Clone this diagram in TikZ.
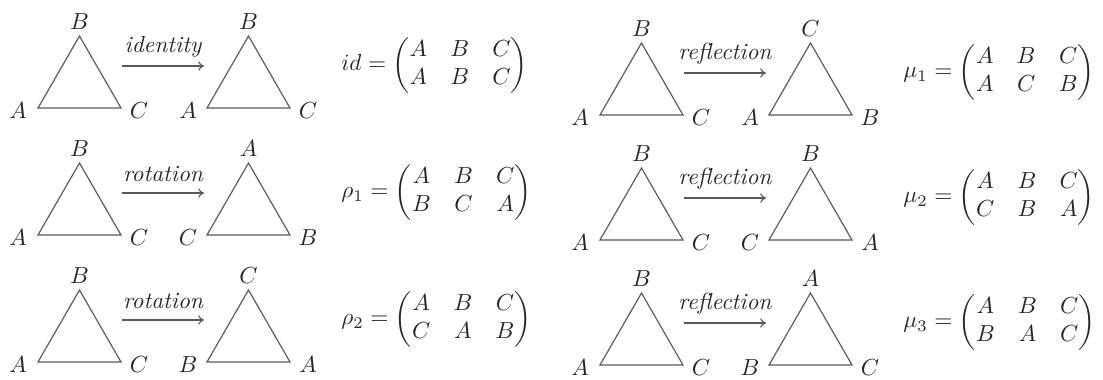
\documentclass[tikz,border=0pt]{standalone}
\usepackage{amsmath}
\usetikzlibrary{arrows.meta}
\tikzset{
  tri/.style={draw=black!65, line width=0.5pt, line join=miter},
  vlab/.style={inner sep=0pt, text=black!85},
  maparrow/.style={draw=black!65, line width=0.5pt, -{To[length=2.5pt,width=4pt]}},
  maplab/.style={inner sep=0pt, text=black!85, font=\itshape},
  perm/.style={inner sep=0pt, anchor=west, text=black!85},
}
\newcommand\sympanel[9]{%
  \coordinate (#1p) at (#2,#3);
  \coordinate (#1q) at (#2+83,#3);
  \coordinate (#1t) at (#2+41.5,#3-72);
  \draw[tri] (#1p) -- (#1q) -- (#1t) -- cycle;
  \node[vlab] (#1la) at (#2-20,#3+3) {$A$};
  \node[vlab] (#1lc) at (#2+101,#3+3) {$C$};
  \node[vlab] (#1lb) at (#2+41.5,#3-86) {$B$};
  \coordinate (#1r) at (#2+169,#3);
  \coordinate (#1s) at (#2+252,#3);
  \coordinate (#1u) at (#2+210.5,#3-72);
  \draw[tri] (#1r) -- (#1s) -- (#1u) -- cycle;
  \node[vlab] (#1ra) at (#2+150,#3+3) {$#6$};
  \node[vlab] (#1rc) at (#2+270,#3+3) {$#7$};
  \node[vlab] (#1rb) at (#2+210.5,#3-86) {$#5$};
  \coordinate (#1m) at (#2+84,#3-42);
  \coordinate (#1n) at (#2+166,#3-42);
  \draw[maparrow] (#1m) -- (#1n);
  \node[maplab] (#1lab) at (#2+125,#3-61) {#4};
  \node[perm] (#1mat) at (#2+303,#3-43) {$#8=\begin{pmatrix}A&B&C\\#9\end{pmatrix}$};
}
\begin{document}
\begin{tikzpicture}[x=0.43pt,y=-0.43pt]
\useasboundingbox (0,0) rectangle (1103,379);
\sympanel{r1}{38}{108}{identity}{B}{A}{C}{id}{A&B&C}
\sympanel{r2}{38}{235}{rotation}{A}{C}{B}{\rho_1}{B&C&A}
\sympanel{r3}{38}{362}{rotation}{C}{B}{A}{\rho_2}{C&A&B}
\sympanel{m1}{600}{115}{reflection}{C}{A}{B}{\mu_1}{A&C&B}
\sympanel{m2}{600}{240}{reflection}{B}{C}{A}{\mu_2}{C&B&A}
\sympanel{m3}{600}{365}{reflection}{A}{B}{C}{\mu_3}{B&A&C}
\end{tikzpicture}
\end{document}
